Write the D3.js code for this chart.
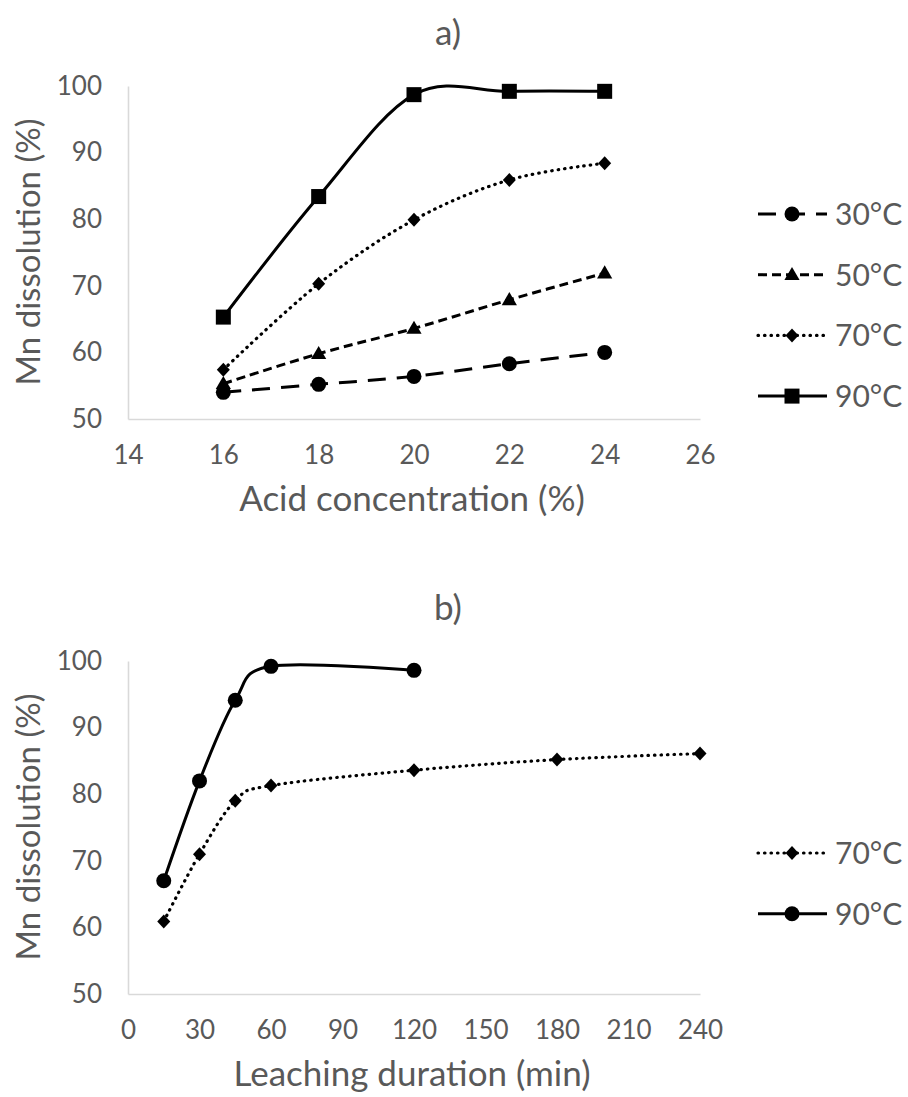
<!DOCTYPE html>
<html>
<head>
<meta charset="utf-8">
<script src="https://cdn.jsdelivr.net/npm/d3@7"></script>
<style>
  html, body { margin: 0; padding: 0; background: #ffffff; }
  svg { display: block; }
  text { font-family: Lato, "Open Sans", sans-serif; fill: #595959; }
</style>
</head>
<body>
<script>
// ---------- data ----------
const acidConcentration = [16, 18, 20, 22, 24];
const acid30 = [54.0, 55.2, 56.4, 58.3, 60.0];
const acid50 = [55.3, 59.8, 63.6, 67.9, 71.9];
const acid70 = [57.4, 70.3, 79.9, 85.9, 88.4];
const acid90 = [65.3, 83.4, 98.7, 99.2, 99.2];

const duration70 = [15, 30, 45, 60, 120, 180, 240];
const leach70 = [60.9, 71.0, 79.0, 81.3, 83.6, 85.2, 86.1];
const duration90 = [15, 30, 45, 60, 120];
const leach90 = [67.0, 82.0, 94.1, 99.2, 98.6];

const acidTicks = [14, 16, 18, 20, 22, 24, 26];
const durationTicks = [0, 30, 60, 90, 120, 150, 180, 210, 240];
const yTicks = [50, 60, 70, 80, 90, 100];

const panelTitles = ["a)", "b)"];
const xTitles = ["Acid concentration (%)", "Leaching duration (min)"];
const yTitle = "Mn dissolution (%)";
const legendA = ["30°C", "50°C", "70°C", "90°C"];
const legendB = ["70°C", "90°C"];

// ---------- styles ----------
const styles = {
  "30": { dash: "18,11", cap: "butt", width: 3, marker: "circle" },
  "50": { dash: "9,5", cap: "butt", width: 3, marker: "triangle" },
  "70": { dash: "0.5,6", cap: "round", width: 3.2, marker: "diamond" },
  "90": { dash: null, cap: "butt", width: 3, marker: "square" },
  "90b": { dash: null, cap: "butt", width: 3, marker: "circle" }
};

const W = 908, H = 1097;
const svg = d3.select("body").append("svg").attr("width", W).attr("height", H);

function drawMarker(g, type, x, y) {
  if (type === "circle") {
    g.append("circle").attr("cx", x).attr("cy", y).attr("r", 7.5).attr("fill", "#000");
  } else if (type === "square") {
    g.append("rect").attr("x", x - 7.5).attr("y", y - 7.5).attr("width", 15).attr("height", 15).attr("fill", "#000");
  } else if (type === "triangle") {
    g.append("path").attr("d", d3.symbol(d3.symbolTriangle, 100)()).attr("transform", `translate(${x},${y + 1})`).attr("fill", "#000");
  } else if (type === "diamond") {
    g.append("path").attr("d", `M0,-7L6.5,0L0,7L-6.5,0Z`).attr("transform", `translate(${x},${y})`).attr("fill", "#000");
  }
}

function panel(cfg) {
  const g = svg.append("g");
  const x = d3.scaleLinear().domain(cfg.xDomain).range([128, 700]);
  const y = d3.scaleLinear().domain([50, 100]).range([cfg.bottom, cfg.bottom - 333]);

  // axes
  const xa = g.append("g").attr("transform", `translate(0,${cfg.bottom})`)
    .call(d3.axisBottom(x).tickValues(cfg.xTicks).tickSize(0).tickPadding(27));
  const ya = g.append("g").attr("transform", `translate(128,0)`)
    .call(d3.axisLeft(y).tickValues(yTicks).tickSize(0).tickPadding(26));
  [xa, ya].forEach(a => {
    a.select(".domain").attr("stroke", "#d9d9d9").attr("stroke-width", 1.6);
    a.selectAll("text").attr("font-size", 26).attr("fill", "#595959")
      .attr("font-family", "Lato, 'Open Sans', sans-serif");
  });

  // titles
  g.append("text").attr("x", 448).attr("y", cfg.bottom - 386).attr("text-anchor", "middle")
    .attr("dy", "0.35em").attr("font-size", 35).text(cfg.title);
  g.append("text").attr("x", 412).attr("y", cfg.bottom + 80).attr("text-anchor", "middle")
    .attr("dy", "0.35em").attr("font-size", 35).text(cfg.xTitle);
  g.append("text").attr("transform", `translate(28,${cfg.bottom - 167}) rotate(-90)`)
    .attr("text-anchor", "middle").attr("dy", "0.35em").attr("font-size", 33).text(yTitle);

  const line = d3.line().x(d => x(d[0])).y(d => y(d[1])).curve(d3.curveCardinal.tension(0));

  cfg.series.forEach(s => {
    const st = styles[s.style];
    const pts = s.xs.map((v, i) => [v, s.ys[i]]);
    g.append("path").attr("d", line(pts)).attr("fill", "none").attr("stroke", "#000")
      .attr("stroke-width", st.width).attr("stroke-dasharray", st.dash).attr("stroke-linecap", st.cap);
    const mg = g.append("g");
    pts.forEach(p => drawMarker(mg, st.marker, x(p[0]), y(p[1])));
  });

  // legend
  cfg.legend.forEach((L, i) => {
    const st = styles[L.style];
    const ly = cfg.legendTop + i * 60.7;
    g.append("line").attr("x1", 758).attr("x2", 827).attr("y1", ly).attr("y2", ly)
      .attr("stroke", "#000").attr("stroke-width", st.width)
      .attr("stroke-dasharray", st.dash).attr("stroke-linecap", st.cap);
    drawMarker(g, st.marker, 792, ly);
    g.append("text").attr("x", 835).attr("y", ly).attr("dy", "0.36em")
      .attr("font-size", 30).text(L.label);
  });
}

panel({
  xDomain: [14, 26], xTicks: acidTicks, bottom: 419,
  title: panelTitles[0], xTitle: xTitles[0],
  series: [
    { xs: acidConcentration, ys: acid30, style: "30" },
    { xs: acidConcentration, ys: acid50, style: "50" },
    { xs: acidConcentration, ys: acid70, style: "70" },
    { xs: acidConcentration, ys: acid90, style: "90" }
  ],
  legendTop: 214,
  legend: [
    { label: legendA[0], style: "30" },
    { label: legendA[1], style: "50" },
    { label: legendA[2], style: "70" },
    { label: legendA[3], style: "90" }
  ]
});

panel({
  xDomain: [0, 240], xTicks: durationTicks, bottom: 994,
  title: panelTitles[1], xTitle: xTitles[1],
  series: [
    { xs: duration70, ys: leach70, style: "70" },
    { xs: duration90, ys: leach90, style: "90b" }
  ],
  legendTop: 853,
  legend: [
    { label: legendB[0], style: "70" },
    { label: legendB[1], style: "90b" }
  ]
});
</script>
</body>
</html>
